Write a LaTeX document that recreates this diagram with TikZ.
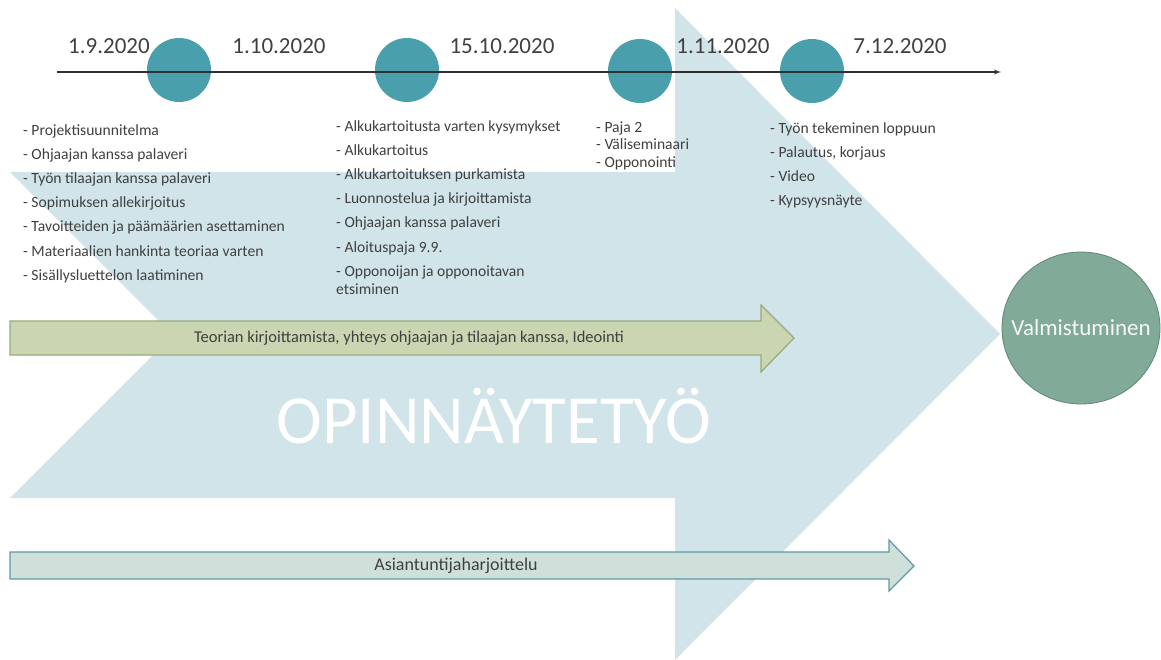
\documentclass[tikz,border=0pt]{standalone}
\usepackage{fontspec}
\setmainfont{Carlito}
\usepackage{tikz}
\usetikzlibrary{arrows,shapes.geometric,positioning,calc}
\definecolor{BGBLUE}{HTML}{D0E4EA}
\definecolor{TEAL}{HTML}{4A9FAD}
\definecolor{TEXTGRAY}{HTML}{404040}
\definecolor{LINEGRAY}{HTML}{303030}
\definecolor{OLIVEFILL}{HTML}{CAD5B2}
\definecolor{OLIVEDRAW}{HTML}{9AAA7B}
\definecolor{MINTFILL}{HTML}{CFE0DB}
\definecolor{MINTDRAW}{HTML}{5C9AA5}
\definecolor{GOALFILL}{HTML}{82AA98}
\definecolor{GOALDRAW}{HTML}{5F8575}
\tikzstyle{CIRCLE_1} = [circle, fill=TEAL, minimum size=64pt, inner sep=0pt]
\tikzstyle{DATE} = [text=TEXTGRAY, inner sep=0pt, font=\fontsize{23}{27}\selectfont]
\tikzstyle{LIST} = [anchor=north west, align=left, inner sep=0pt, text=TEXTGRAY, font=\fontsize{15.6}{24.1}\selectfont]
\tikzstyle{LINE} = [draw, -latex', line width=1.3pt, color=LINEGRAY]

\begin{document}
\begin{tikzpicture}[x=1pt, y=-1pt]
% Define
\tikzstyle{BLOCK_1} = [fill=OLIVEFILL, draw=OLIVEDRAW, line width=1.2pt, line join=miter]
\tikzstyle{BLOCK_2} = [fill=MINTFILL, draw=MINTDRAW, line width=1.2pt, line join=miter]
\tikzstyle{BLOCK_TEXT} = [text=TEXTGRAY, inner sep=0pt, font=\fontsize{16.5}{18}\selectfont]
\tikzstyle{ELLIPSE_1} = [ellipse, fill=GOALFILL, draw=GOALDRAW, line width=0.8pt, inner sep=0pt, minimum width=158pt, minimum height=152pt]
\useasboundingbox (0,0) rectangle (1161,659);
% Big arrow
\fill [BGBLUE] (10,172) -- (675,172) -- (675,8) -- (1000,334) -- (675,660) -- (675,498) -- (10,498) -- (173,335) -- cycle;
\node [text=white, inner sep=0pt, anchor=base, font=\fontsize{69}{70}\selectfont] (work) at (493.5,443) {OPINNÄYTETYÖ};
% Place nodes
\node [CIRCLE_1] (c_1) at (179,70) {};
\node [CIRCLE_1] (c_2) at (407,70) {};
\node [CIRCLE_1] (c_3) at (640,71) {};
\node [CIRCLE_1] (c_4) at (812,71) {};
\node [DATE] (d_1) at (109,46) {1.9.2020};
\node [DATE] (d_2) at (279,46) {1.10.2020};
\node [DATE] (d_3) at (502,46) {15.10.2020};
\node [DATE] (d_4) at (723,46) {1.11.2020};
\node [DATE] (d_5) at (900,46) {7.12.2020};
\coordinate (t_start) at (57,72);
\coordinate (t_end) at (1001,72);
\node [LIST] (list_1) at (23,124.5) {- Projektisuunnitelma \\ - Ohjaajan kanssa palaveri \\ - Työn tilaajan kanssa palaveri \\ - Sopimuksen allekirjoitus \\ - Tavoitteiden ja päämäärien asettaminen \\ - Materiaalien hankinta teoriaa varten \\ - Sisällysluettelon laatiminen};
\node [LIST] (list_2) at (336,120.5) {- Alkukartoitusta varten kysymykset \\ - Alkukartoitus \\ - Alkukartoituksen purkamista \\ - Luonnostelua ja kirjoittamista \\ - Ohjaajan kanssa palaveri \\ - Aloituspaja 9.9. \\ - Opponoijan ja opponoitavan \\[-6pt] etsiminen};
\node [LIST, font=\fontsize{15.6}{17.5}\selectfont] (list_3) at (596,121.2) {- Paja 2 \\ - Väliseminaari \\ - Opponointi};
\node [LIST] (list_4) at (770,122.5) {- Työn tekeminen loppuun \\ - Palautus, korjaus \\ - Video \\ - Kypsyysnäyte};
\node [ELLIPSE_1, label={[text=white!92!GOALFILL, font=\fontsize{23}{27}\selectfont]center:Valmistuminen}] (goal) at (1081,328) {};
% LINES and ARROWS
\path [LINE] (t_start) -- (t_end);
\filldraw [BLOCK_1] (10,321) -- (761,321) -- (761,305) -- (794,338) -- (761,372) -- (761,355) -- (10,355) -- cycle;
\node [BLOCK_TEXT] (theory) at (409,338) {Teorian kirjoittamista, yhteys ohjaajan ja tilaajan kanssa, Ideointi};
\filldraw [BLOCK_2] (10,552) -- (889,552) -- (889,540) -- (914,566) -- (889,591) -- (889,579) -- (10,579) -- cycle;
\node [BLOCK_TEXT, font=\fontsize{18}{20}\selectfont] (practice) at (456,565.5) {Asiantuntijaharjoittelu};
\end{tikzpicture}
\end{document}
